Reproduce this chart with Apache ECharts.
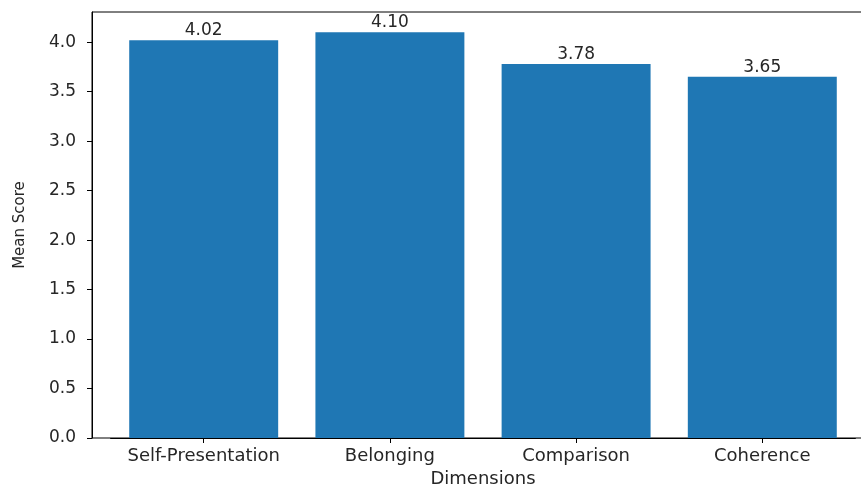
<!DOCTYPE html>
<html>
<head>
<meta charset="utf-8">
<script src="https://cdn.jsdelivr.net/npm/echarts@6/dist/echarts.min.js"></script>
<style>
html,body{margin:0;padding:0;background:#fff;}
#chart{width:861px;height:487px;}
</style>
</head>
<body>
<div id="chart"></div>
<script>
const categories = ['Self-Presentation', 'Belonging', 'Comparison', 'Coherence'];
const meanScores = [4.02, 4.10, 3.78, 3.65];
const yMin = 0;
const yMax = 4.305;
const yStep = 0.5;
const xTitle = 'Dimensions';
const yTitle = 'Mean Score';

const chart = echarts.init(document.getElementById('chart'), null, {renderer: 'canvas'});
const FONT = 'DejaVu Sans';
const TXT = '#262626';

chart.setOption({
  animation: false,
  backgroundColor: '#ffffff',
  grid: [
    {left: 92, right: -13, top: 12, bottom: 49, show: true, borderColor: '#000', borderWidth: 1,
     backgroundColor: 'transparent', containLabel: false, outerBoundsMode: 'none'},
    {left: 110.6, right: 5.6, top: 12, bottom: 49, containLabel: false, outerBoundsMode: 'none'}
  ],
  xAxis: [
    {gridIndex: 0, type: 'value', show: false, min: 0, max: 1},
    {
      gridIndex: 1, type: 'category', data: categories,
      axisLine: {show: true, lineStyle: {color: '#000', width: 1}},
      axisTick: {show: true, alignWithLabel: true, length: 5, lineStyle: {color: '#000'}},
      axisLabel: {color: TXT, fontFamily: FONT, fontSize: 18, margin: 9, interval: 0, hideOverlap: false},
      name: xTitle, nameLocation: 'middle', nameGap: 32,
      nameTextStyle: {color: TXT, fontFamily: FONT, fontSize: 18}
    }
  ],
  yAxis: [
    {gridIndex: 0, type: 'value', show: false, min: 0, max: 1},
    {
      gridIndex: 1, type: 'value', min: yMin, max: yMax, interval: yStep, offset: 18.6,
      axisLine: {show: true, lineStyle: {color: '#000', width: 1}},
      axisTick: {show: true, length: 5, lineStyle: {color: '#000'}},
      splitLine: {show: false},
      axisLabel: {
        color: TXT, fontFamily: FONT, fontSize: 17, margin: 16, showMaxLabel: false,
        formatter: v => (Math.abs(v / yStep - Math.round(v / yStep)) < 1e-6 ? v.toFixed(1) : '')
      },
      name: yTitle, nameLocation: 'middle', nameGap: 64, nameRotate: 90,
      nameTextStyle: {color: TXT, fontFamily: FONT, fontSize: 15}
    }
  ],
  series: [{
    type: 'bar',
    xAxisIndex: 1, yAxisIndex: 1,
    data: meanScores,
    barWidth: '80%',
    itemStyle: {color: '#1f77b4'},
    label: {
      show: true, position: 'top', distance: 1,
      color: TXT, fontFamily: FONT, fontSize: 17,
      formatter: p => p.value.toFixed(2)
    }
  }]
});
</script>
</body>
</html>
